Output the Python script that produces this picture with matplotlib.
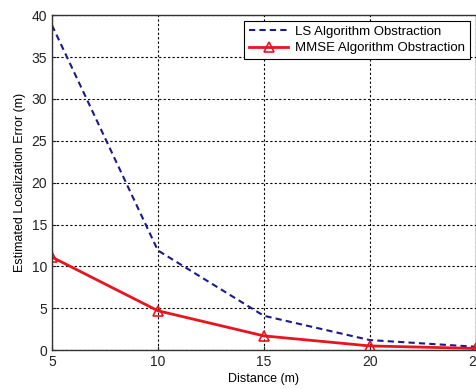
import matplotlib.pyplot as plt

plt.rcParams['font.family'] = ['Liberation Sans', 'DejaVu Sans']

# Data
distance = [5, 10, 15, 20, 25]
ls_error = [38.8, 11.9, 4.1, 1.2, 0.4]
mmse_error = [11.1, 4.7, 1.7, 0.5, 0.2]

fig = plt.figure(figsize=(4.77, 3.89), dpi=100)
ax = fig.add_axes([0.109, 0.100, 0.888, 0.861])

ax.plot(distance, ls_error, color='#1a1a8c', linestyle='--', linewidth=1.5,
        dashes=(3, 2), label='LS Algorithm Obstraction')
ax.plot(distance, mmse_error, color='#e8141e', linewidth=2, marker='^',
        markersize=7, markerfacecolor='none', markeredgecolor='#e8141e',
        markeredgewidth=1.2, label='MMSE Algorithm Obstraction')

ax.set_xlim(5, 25)
ax.set_ylim(0, 40)
ax.set_xticks(distance)
ax.set_yticks(range(0, 41, 5))
ax.tick_params(direction='in', length=3, labelsize=10, colors='#222222')
ax.grid(True, color='black', linestyle=(0, (2, 2)), linewidth=0.8)
for s in ax.spines.values():
    s.set_color('#333333')
    s.set_linewidth(1.0)

ax.set_xlabel('Distance (m)', fontsize=9, labelpad=3)
ax.set_ylabel('Estimated Localization Error (m)', fontsize=9, labelpad=4)

leg = ax.legend(loc='upper right', fontsize=9.5, frameon=True, fancybox=False,
                framealpha=1, edgecolor='black', borderpad=0.35,
                handlelength=3, handletextpad=0.5, labelspacing=0.3,
                borderaxespad=0.45)
leg.get_frame().set_linewidth(0.8)

fig.savefig('out.png', dpi=100)
